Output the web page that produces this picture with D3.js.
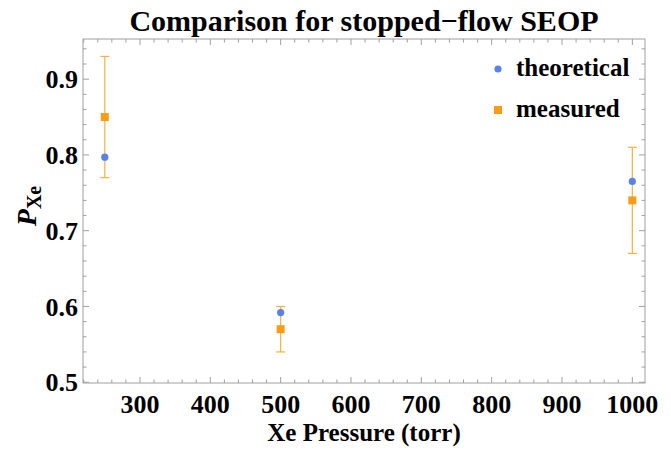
<!DOCTYPE html>
<html>
<head>
<meta charset="utf-8">
<script src="https://cdn.jsdelivr.net/npm/d3@7"></script>
<style>
body { margin: 0; background: #fff; }
text { font-family: "Liberation Serif", "Times New Roman", serif; font-weight: bold; fill: #000; }
</style>
</head>
<body>
<svg id="chart" width="671" height="451"></svg>
<script>
var pressures = [250, 500, 1000];
var theoretical = [0.797, 0.592, 0.765];
var measured = [0.85, 0.57, 0.74];
var errors = [0.08, 0.03, 0.07];
var xTicks = [300, 400, 500, 600, 700, 800, 900, 1000];
var yTicks = [0.5, 0.6, 0.7, 0.8, 0.9];
var seriesNames = ['theoretical', 'measured'];

var blue = '#5a82e6';
var orange = '#fa9c16';
var barColor = '#f2b43c';
var frameColor = '#a0a0a0';

var svg = d3.select('#chart');

var x = d3.scaleLinear().domain([219, 1018]).range([83, 645]);
var y = d3.scaleLinear().domain([0.499, 0.953]).range([383, 39]);

var x0 = x.range()[0], x1 = x.range()[1];
var y0 = y.range()[0], y1 = y.range()[1];

// minor ticks every 20 on x, every 0.02 on y
var xMinor = d3.range(220, 1018, 20);
var yMinor = d3.range(0.5, 0.953, 0.02);

var g = svg.append('g');

// frame
g.append('rect')
    .attr('x', x0).attr('y', y1)
    .attr('width', x1 - x0).attr('height', y0 - y1)
    .attr('fill', 'none').attr('stroke', frameColor).attr('stroke-width', 1);

var isMajorX = function(v) { return Math.abs(v % 100) < 1e-6; };
var isMajorY = function(v) { return Math.abs(Math.round(v * 10) - v * 10) < 1e-6; };

// x ticks bottom and top
g.selectAll('line.xt').data(xMinor).enter().append('line')
    .attr('class', 'xt')
    .attr('x1', function(d) { return x(d); }).attr('x2', function(d) { return x(d); })
    .attr('y1', y0).attr('y2', function(d) { return y0 - (isMajorX(d) ? 6 : 3.5); })
    .attr('stroke', frameColor);
g.selectAll('line.xtt').data(xMinor).enter().append('line')
    .attr('class', 'xtt')
    .attr('x1', function(d) { return x(d); }).attr('x2', function(d) { return x(d); })
    .attr('y1', y1).attr('y2', function(d) { return y1 + (isMajorX(d) ? 6 : 3.5); })
    .attr('stroke', frameColor);

// y ticks left and right
g.selectAll('line.yt').data(yMinor).enter().append('line')
    .attr('class', 'yt')
    .attr('y1', function(d) { return y(d); }).attr('y2', function(d) { return y(d); })
    .attr('x1', x0).attr('x2', function(d) { return x0 + (isMajorY(d) ? 6 : 3.5); })
    .attr('stroke', frameColor);
g.selectAll('line.ytr').data(yMinor).enter().append('line')
    .attr('class', 'ytr')
    .attr('y1', function(d) { return y(d); }).attr('y2', function(d) { return y(d); })
    .attr('x1', x1).attr('x2', function(d) { return x1 - (isMajorY(d) ? 6 : 3.5); })
    .attr('stroke', frameColor);

// tick labels
g.selectAll('text.xl').data(xTicks).enter().append('text')
    .attr('class', 'xl')
    .attr('x', function(d) { return x(d); })
    .attr('y', y0 + 30)
    .attr('text-anchor', 'middle')
    .style('font-size', '26px')
    .text(function(d) { return d; });

g.selectAll('text.yl').data(yTicks).enter().append('text')
    .attr('class', 'yl')
    .attr('x', x0 - 5)
    .attr('y', function(d) { return y(d); })
    .attr('dy', '0.35em')
    .attr('text-anchor', 'end')
    .style('font-size', '26px')
    .text(function(d) { return d3.format('.1f')(d); });

// title and axis labels
svg.append('text')
    .attr('x', 364).attr('y', 31)
    .attr('text-anchor', 'middle')
    .style('font-size', '30px')
    .text('Comparison for stopped\u2212flow SEOP');

svg.append('text')
    .attr('x', (x0 + x1) / 2).attr('y', 441)
    .attr('text-anchor', 'middle')
    .style('font-size', '25px')
    .text('Xe Pressure (torr)');

var ylab = svg.append('text')
    .attr('transform', 'translate(36,206) rotate(-90)')
    .attr('text-anchor', 'middle');
ylab.append('tspan').style('font-size', '28px').style('font-style', 'italic').text('P');
ylab.append('tspan').attr('dy', 5).style('font-size', '20px').text('Xe');

// error bars
var data = pressures.map(function(p, i) {
    return {p: p, t: theoretical[i], m: measured[i], e: errors[i]};
});

var bars = g.selectAll('g.err').data(data).enter().append('g').attr('class', 'err');
bars.append('line')
    .attr('x1', function(d) { return x(d.p); }).attr('x2', function(d) { return x(d.p); })
    .attr('y1', function(d) { return y(d.m - d.e); }).attr('y2', function(d) { return y(d.m + d.e); })
    .attr('stroke', barColor).attr('stroke-width', 1.2);
[-1, 1].forEach(function(s) {
    bars.append('line')
        .attr('x1', function(d) { return x(d.p) - 4.5; }).attr('x2', function(d) { return x(d.p) + 4.5; })
        .attr('y1', function(d) { return y(d.m + s * d.e); }).attr('y2', function(d) { return y(d.m + s * d.e); })
        .attr('stroke', barColor).attr('stroke-width', 1.2);
});

// points
g.selectAll('circle.th').data(data).enter().append('circle')
    .attr('class', 'th')
    .attr('cx', function(d) { return x(d.p); })
    .attr('cy', function(d) { return y(d.t); })
    .attr('r', 3.6)
    .attr('fill', blue);

g.selectAll('rect.me').data(data).enter().append('rect')
    .attr('class', 'me')
    .attr('x', function(d) { return x(d.p) - 4; })
    .attr('y', function(d) { return y(d.m) - 4; })
    .attr('width', 8).attr('height', 8)
    .attr('fill', orange);

// legend
var leg = svg.append('g');
leg.append('circle').attr('cx', 498).attr('cy', 69).attr('r', 3.6).attr('fill', blue);
leg.append('rect').attr('x', 494).attr('y', 106).attr('width', 8).attr('height', 8).attr('fill', orange);
leg.selectAll('text').data(seriesNames).enter().append('text')
    .attr('x', 516)
    .attr('y', function(d, i) { return 76 + i * 41; })
    .style('font-size', '25px')
    .text(function(d) { return d; });
</script>
</body>
</html>
